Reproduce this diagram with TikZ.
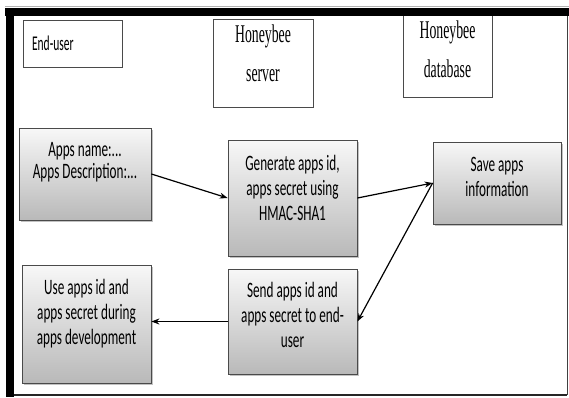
\documentclass[tikz,border=0pt]{standalone}
\usepackage{fontspec}
\newfontfamily\procfont[FakeStretch=0.6]{Carlito}
\newfontfamily\eufont[FakeStretch=0.55]{Carlito}
\newfontfamily\hbfont[FakeStretch=0.54]{Liberation Serif}
\usetikzlibrary{shadows,arrows.meta}
\definecolor{boxborder}{HTML}{4A4A4A}
\begin{document}
\begin{tikzpicture}[x=1pt,y=-1pt,
  actor/.style={draw=boxborder, line width=0.8pt, fill=white, inner sep=0pt},
  proc/.style={draw=boxborder, line width=0.8pt, top color=gray!6, bottom color=gray!55, inner sep=0pt,
    drop shadow={shadow xshift=1.5pt, shadow yshift=-1.8pt, opacity=0.6, fill=gray!80}},
  ptext/.style={font=\procfont\fontsize{22}{25}\selectfont, align=center, inner sep=0pt},
  hbtext/.style={font=\hbfont\fontsize{25.5}{39}\selectfont, align=center, inner sep=0pt},
  conn/.style={line width=1.2pt, -{Stealth[length=8pt,width=6pt]}}
]
\useasboundingbox (0,0) rectangle (569,397);
% actor boxes
\node[actor, font=\eufont\fontsize{21}{23}\selectfont, minimum height=47pt, text width=81pt, inner xsep=9pt, align=left] (eu) at (72.5,43.5) {End-user};
\node[actor, minimum width=100pt, minimum height=88pt] (srv) at (263,63) {};
\node[hbtext] (srvt) at (263,53) {Honeybee\\server};
\node[actor, minimum width=89pt, minimum height=82pt] (db) at (447.5,56) {};
\node[hbtext] (dbt) at (447.5,49) {Honeybee\\database};
% process boxes
\node[proc, minimum width=132pt, minimum height=92pt] (apps) at (85,174) {};
\node[ptext, font=\procfont\fontsize{22}{21.5}\selectfont] (appst) at (85,162) {Apps name:...\\Apps Description:...};
\node[proc, minimum width=129pt, minimum height=116pt] (gen) at (292.5,198) {};
\node[ptext] (gent) at (292.5,187.5) {Generate apps id,\\apps secret using\\HMAC-SHA1};
\node[proc, minimum width=128pt, minimum height=82pt] (save) at (497,183) {};
\node[ptext] (savet) at (497,177) {Save apps\\information};
\node[proc, minimum width=129pt, minimum height=118pt] (use) at (86.5,324) {};
\node[ptext] (uset) at (86.5,314) {Use apps id and\\apps secret during\\apps development};
\node[proc, minimum width=129pt, minimum height=105pt] (send) at (292.5,321.5) {};
\node[ptext] (sendt) at (292.5,315) {Send apps id and\\apps secret to end-\\user};
% connectors
\draw[conn] (apps.east) -- (gen.west);
\draw[conn] (gen.east) -- (save.west);
\draw[conn] (save.west) -- (send.east);
\draw[conn] (send.west) -- (send.west -| use.east);
% frame
\draw[gray!60, line width=0.6pt] (5,6.5) -- (569,6.5);
\fill[black] (5,8) rectangle (569,16);
\fill[black] (6,8) rectangle (14,397);
\draw[black!75, line width=1pt] (567,16) -- (567,395);
\draw[black!85, line width=1.5pt] (14,395) -- (567,395);
\end{tikzpicture}
\end{document}
